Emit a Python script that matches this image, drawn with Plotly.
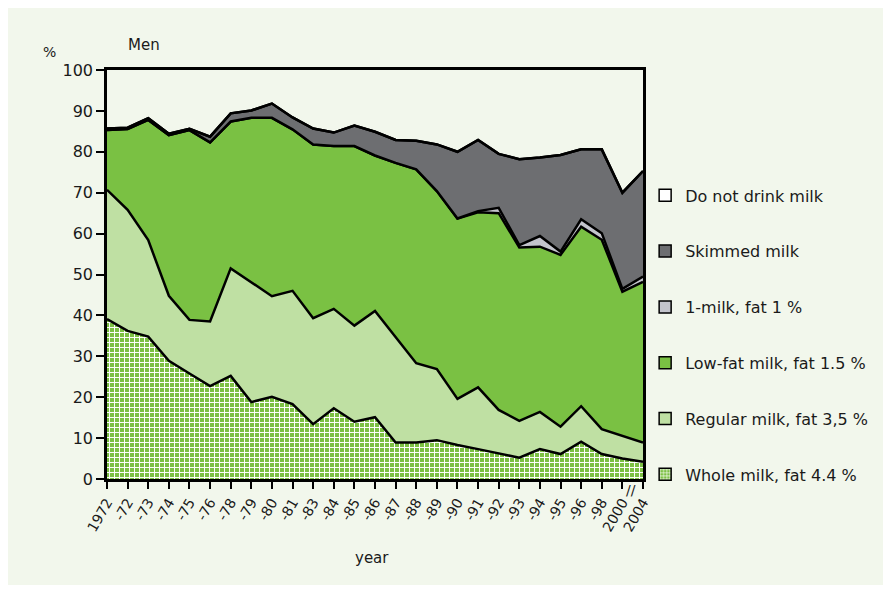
import plotly.graph_objects as go

years = ["1972", "-72", "-73", "-74", "-75", "-76", "-78", "-79", "-80", "-81", "-83",
         "-84", "-85", "-86", "-87", "-88", "-89", "-90", "-91", "-92", "-93", "-94",
         "-95", "-96", "-98", "2000", "2004"]

whole = [39.1, 36.2, 34.8, 28.9, 25.8, 22.7, 25.2, 18.8, 20.1, 18.3, 13.4, 17.3, 14.0, 15.1,
         8.9, 8.9, 9.5, 8.3, 7.3, 6.3, 5.2, 7.3, 6.1, 9.1, 6.1, 5.0, 4.2]
regular = [31.6, 29.6, 23.6, 15.9, 13.1, 15.8, 26.3, 29.4, 24.6, 27.7, 25.9, 24.3, 23.5, 26.0,
           25.9, 19.4, 17.4, 11.3, 15.1, 10.6, 9.0, 9.1, 6.7, 8.7, 6.1, 5.5, 4.7]
lowfat = [14.6, 19.8, 29.4, 39.3, 46.4, 43.8, 35.9, 40.1, 43.6, 39.5, 42.5, 39.8, 43.9, 38.0,
          42.5, 47.4, 43.5, 44.1, 42.8, 48.1, 42.4, 40.4, 42.0, 43.9, 46.3, 35.3, 39.3]
onemilk = [0, 0, 0, 0, 0, 0, 0, 0, 0, 0, 0, 0, 0, 0,
           0, 0, 0, 0, 0.3, 1.3, 0.6, 2.6, 0.8, 1.8, 1.6, 0.7, 1.3]
skimmed = [0.4, 0.3, 0.4, 0.3, 0.3, 1.4, 2.0, 1.8, 3.5, 2.9, 3.9, 3.3, 5.0, 5.8,
           5.6, 7.0, 11.4, 16.3, 17.4, 13.2, 21.0, 19.2, 23.6, 17.1, 20.5, 23.5, 25.8]
nodrink = [0] * 27

names = ["Whole milk, fat 4.4 %", "Regular milk, fat 3,5 %", "Low-fat milk, fat 1.5 %",
         "1-milk, fat 1 %", "Skimmed milk", "Do not drink milk"]
series = [whole, regular, lowfat, onemilk, skimmed, nodrink]
colors = ["#7cc043", "#bfe0a3", "#7ac143", "#c3c4cc", "#6d6e71", "#ffffff"]

BG = "#f2f7ec"
FONT = "DejaVu Sans"
TXT = "#1a1a1a"

PATTERN = dict(shape="+", size=5, solidity=0.35, fgcolor="#ffffff",
               bgcolor="#7cc043", fillmode="replace")

fig = go.Figure()
for i, (name, vals, col) in enumerate(zip(names, series, colors)):
    kw = {"fillpattern": PATTERN} if i == 0 else {}
    fig.add_trace(go.Scatter(
        x=years, y=vals, name=name, stackgroup="one", mode="lines",
        line=dict(color="black", width=2.5), fillcolor=col, showlegend=False,
        hoverinfo="skip", **kw))

# legend entries, top to bottom
for i in reversed(range(len(names))):
    marker = dict(color=colors[i], line=dict(color="black", width=1.5))
    if i == 0:
        marker["pattern"] = dict(PATTERN, size=4)
    fig.add_trace(go.Bar(x=[None], y=[None], name=names[i], marker=marker,
                         legendgroup=names[i], showlegend=True))

fig.update_layout(
    width=879, height=577,
    margin=dict(l=99, r=244, t=62, b=106),
    paper_bgcolor=BG, plot_bgcolor=BG,
    font=dict(family=FONT, color=TXT, size=14),
    showlegend=True,
    legend=dict(x=1.004, xanchor="left", y=0.735, yanchor="top",
                traceorder="grouped", tracegroupgap=32,
                font=dict(family=FONT, size=16, color=TXT),
                bgcolor="rgba(0,0,0,0)"),
    xaxis=dict(type="category", range=[0, 26], showgrid=False, zeroline=False,
               showline=True, linecolor="black", linewidth=2.5, mirror=True,
               ticks="outside", ticklen=7, tickwidth=1.5, tickcolor="black",
               tickangle=-60, tickfont=dict(family=FONT, size=14, color=TXT)),
    yaxis=dict(range=[0, 100], dtick=10, showgrid=False, zeroline=False,
               showline=True, linecolor="black", linewidth=2.5, mirror=True,
               ticks="outside", ticklen=8, tickwidth=1.5, tickcolor="black",
               tickfont=dict(family=FONT, size=16, color=TXT)),
    annotations=[
        dict(text="%", xref="paper", yref="paper", x=-0.108, y=1.045, showarrow=False,
             xanchor="center", yanchor="middle", font=dict(size=14)),
        dict(text="Men", xref="paper", yref="paper", x=0.036, y=1.06, showarrow=False,
             xanchor="left", yanchor="middle", font=dict(size=15)),
        dict(text="year", xref="paper", yref="paper", x=0.495, y=-0.193, showarrow=False,
             xanchor="center", yanchor="middle", font=dict(size=15)),
        dict(text="//", xref="x", yref="paper", x=25.4, y=0, yshift=-11, showarrow=False,
             xanchor="center", yanchor="middle", font=dict(size=14)),
    ],
)

fig.write_html("out.html")
